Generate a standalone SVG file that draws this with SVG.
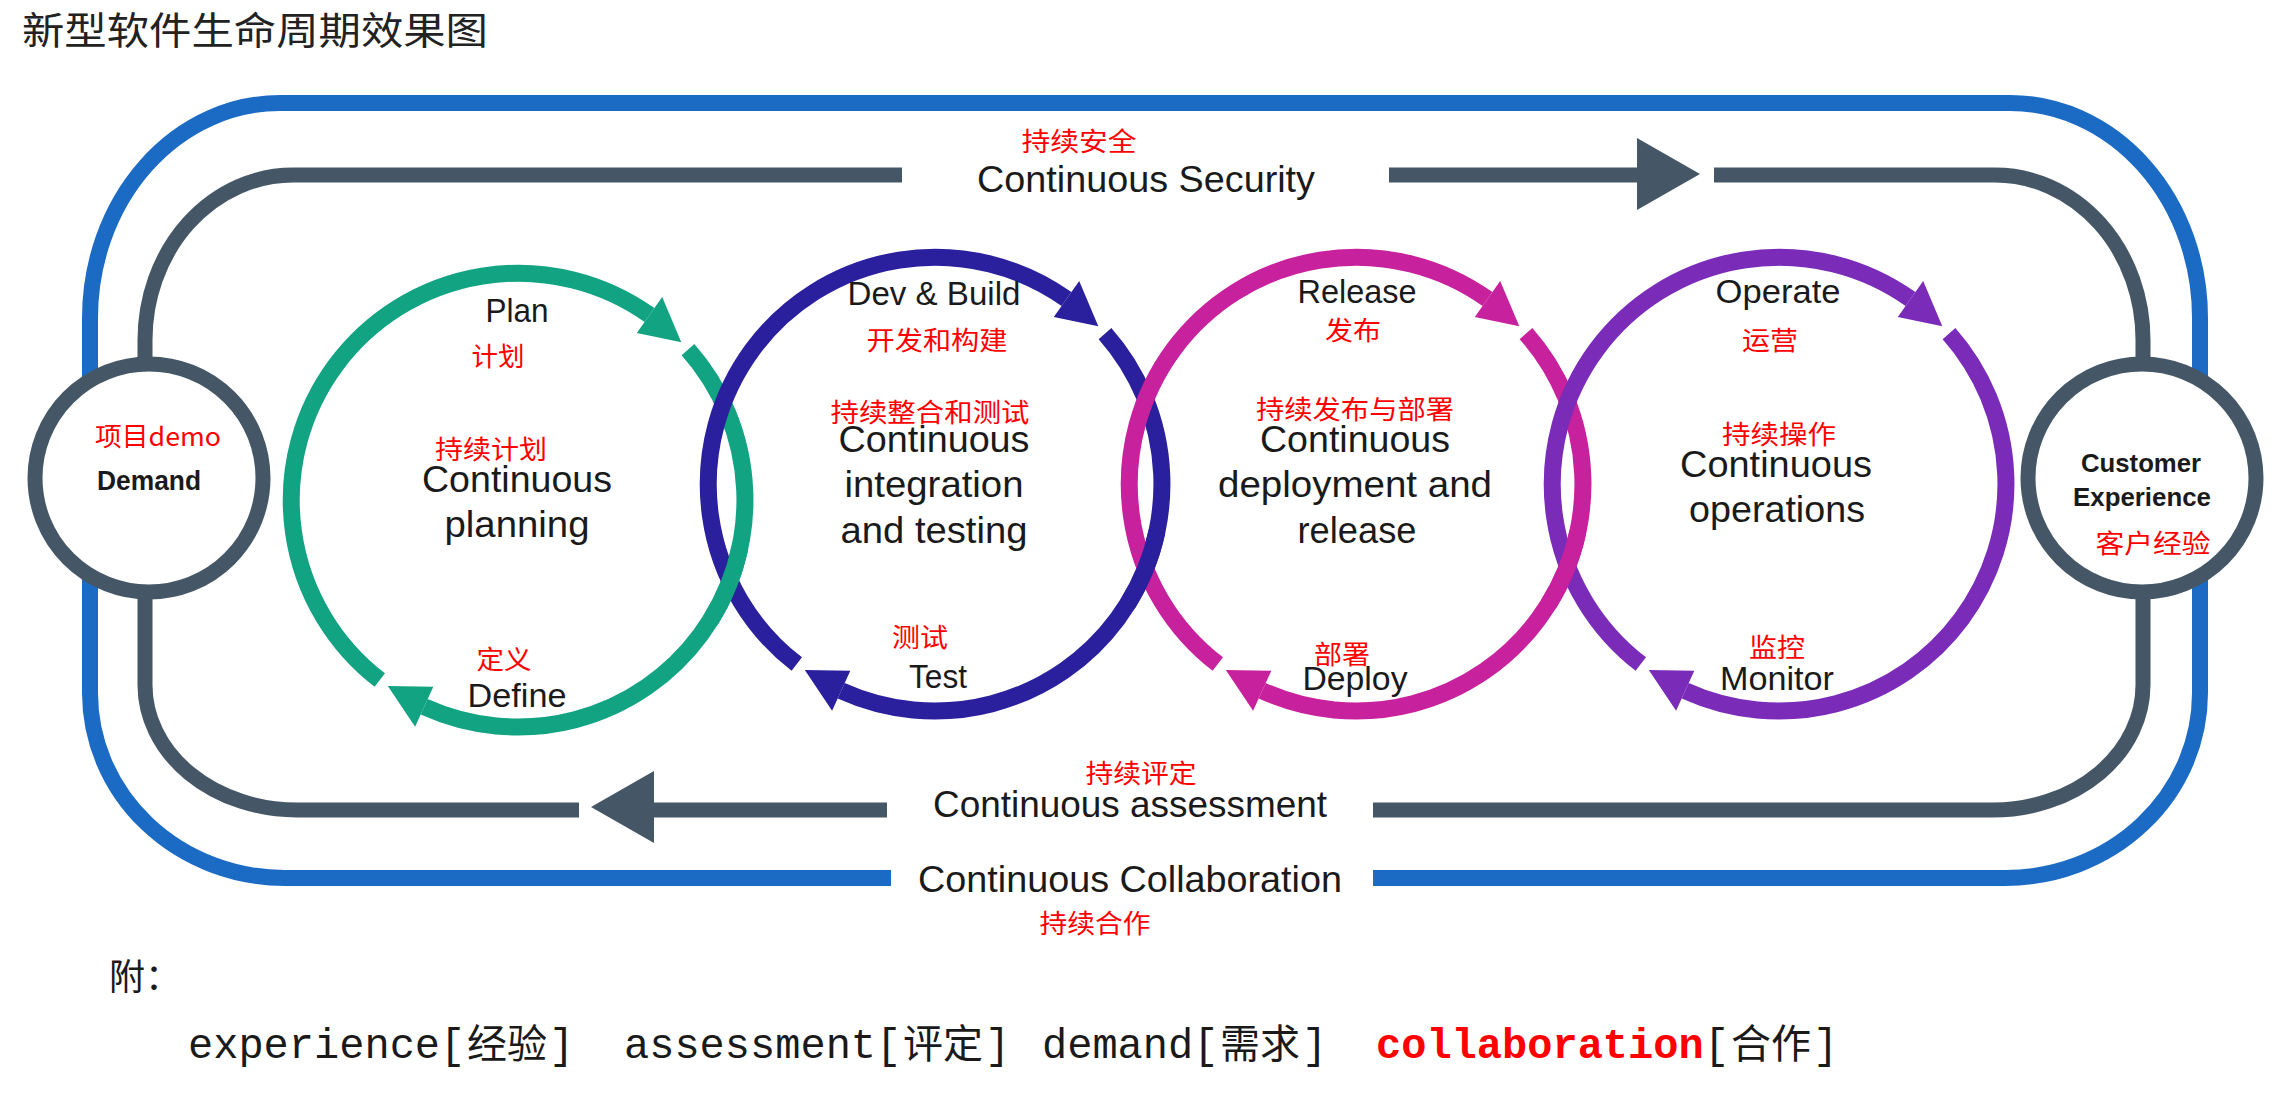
<svg xmlns="http://www.w3.org/2000/svg" xmlns:xlink="http://www.w3.org/1999/xlink" width="2282" height="1096" viewBox="0 0 2282 1096">
<style>
.en{font-family:"Liberation Sans",Arial,sans-serif;fill:#1a1a1a;text-anchor:middle}
.b{font-weight:bold}
.cn{font-family:"Noto Sans CJK SC","Noto Sans",sans-serif;fill:#ff0000;text-anchor:middle;font-size:26px}
.t37{font-size:37px}
.t34{font-size:34px}
.track{fill:none;stroke-linecap:butt}
.mono{font-family:"Liberation Mono","Courier New","Noto Sans CJK SC",monospace;font-size:42px;fill:#1a1a1a}
.monocn{font-family:"Noto Sans CJK SC",sans-serif;font-size:40px;fill:#1a1a1a}
</style>
<defs>
<g id="ring">
<path d="M -138.2 180.1 A 227 227 0 0 1 131.5 -185 M 170 -150.4 A 227 227 0 0 1 -93.8 206.7" fill="none" stroke="currentColor" stroke-width="17"/>
<path d="M 144.2 -202.9 L 163.3 -157.7 L 118.8 -167.1 Z M -102.9 226.7 L -130.2 186 L -84.7 186.7 Z" fill="currentColor"/>
</g>
<path id="lap" d="M 222 47.2 A 227 227 0 0 1 192.5 120.3" fill="none" stroke="currentColor" stroke-width="17"/>
</defs>
<rect x="0" y="0" width="2282" height="1096" fill="#ffffff"/>

<g id="title">
<text x="22" y="44" font-family="Noto Sans CJK SC, sans-serif" font-size="38" fill="#222" textLength="466" lengthAdjust="spacingAndGlyphs">新型软件生命周期效果图</text>
</g>

<g id="connectors">
<path class="track" stroke="#1b6bc5" stroke-width="16" d="M 891 878 H 285 A 195 185 0 0 1 90 693 V 318 A 190 215 0 0 1 280 103 H 2010 A 190 215 0 0 1 2200 318 V 693 A 195 185 0 0 1 2005 878 H 1373"/>
<path class="track" stroke="#455766" stroke-width="15" d="M 902 175 H 293 A 148 165 0 0 0 145 340 V 685 A 152 125 0 0 0 297 810 H 579"/>
<path class="track" stroke="#455766" stroke-width="15" d="M 654 810 H 887"/>
<path class="track" stroke="#455766" stroke-width="15" d="M 1373 810 H 1993 A 150 125 0 0 0 2143 685 V 340 A 148 165 0 0 0 1995 175 H 1714"/>
<path class="track" stroke="#455766" stroke-width="15" d="M 1389 175 H 1640"/>
<polygon points="1637,138 1700,174 1637,210" fill="#455766"/>
<polygon points="591,807 654,771 654,843" fill="#455766"/>
</g>

<g id="demand">
<circle cx="149" cy="478" r="114" fill="#ffffff" stroke="#455766" stroke-width="15"/>
<text class="cn" x="158" y="446" textLength="126" lengthAdjust="spacingAndGlyphs">项目demo</text>
<text class="en b" x="149" y="490" font-size="27" textLength="104" lengthAdjust="spacingAndGlyphs">Demand</text>
</g>

<g id="customer">
<circle cx="2142" cy="478" r="114" fill="#ffffff" stroke="#455766" stroke-width="15"/>
<text class="en b" x="2141" y="472" font-size="26" textLength="120" lengthAdjust="spacingAndGlyphs">Customer</text>
<text class="en b" x="2142" y="506" font-size="26" textLength="138" lengthAdjust="spacingAndGlyphs">Experience</text>
<text class="cn" x="2153" y="553" textLength="115" lengthAdjust="spacingAndGlyphs">客户经验</text>
</g>

<g id="rings">
<use xlink:href="#ring" x="518" y="500" style="color:#12a383"/>
<use xlink:href="#ring" x="935" y="484" style="color:#2a1f9d"/>
<use xlink:href="#ring" x="1356" y="484" style="color:#c8219e"/>
<use xlink:href="#ring" x="1779" y="484" style="color:#7a2bb8"/>
<use xlink:href="#lap" x="518" y="500" style="color:#12a383"/>
<use xlink:href="#lap" x="935" y="484" style="color:#2a1f9d"/>
<use xlink:href="#lap" x="1356" y="484" style="color:#c8219e"/>
</g>

<g id="plan">
<text class="en t34" x="517" y="322" textLength="63" lengthAdjust="spacingAndGlyphs">Plan</text>
<text class="cn" x="498" y="366" textLength="53" lengthAdjust="spacingAndGlyphs">计划</text>
<text class="cn" x="491" y="459" textLength="112" lengthAdjust="spacingAndGlyphs">持续计划</text>
<text class="en t37" x="517" y="492" textLength="190" lengthAdjust="spacingAndGlyphs">Continuous</text>
<text class="en t37" x="517" y="537" textLength="145" lengthAdjust="spacingAndGlyphs">planning</text>
<text class="cn" x="504" y="669" textLength="55" lengthAdjust="spacingAndGlyphs">定义</text>
<text class="en t34" x="517" y="707" textLength="99" lengthAdjust="spacingAndGlyphs">Define</text>
</g>

<g id="dev">
<text class="en t34" x="934" y="305" textLength="173" lengthAdjust="spacingAndGlyphs">Dev &amp; Build</text>
<text class="cn" x="937" y="350" textLength="141" lengthAdjust="spacingAndGlyphs">开发和构建</text>
<text class="cn" x="930" y="422" textLength="199" lengthAdjust="spacingAndGlyphs">持续整合和测试</text>
<text class="en t37" x="934" y="452" textLength="191" lengthAdjust="spacingAndGlyphs">Continuous</text>
<text class="en t37" x="934" y="497" textLength="179" lengthAdjust="spacingAndGlyphs">integration</text>
<text class="en t37" x="934" y="543" textLength="187" lengthAdjust="spacingAndGlyphs">and testing</text>
<text class="cn" x="920" y="647" textLength="56" lengthAdjust="spacingAndGlyphs">测试</text>
<text class="en t34" x="938" y="688" textLength="58" lengthAdjust="spacingAndGlyphs">Test</text>
</g>

<g id="release">
<text class="en t34" x="1357" y="303" textLength="119" lengthAdjust="spacingAndGlyphs">Release</text>
<text class="cn" x="1353" y="340" textLength="56" lengthAdjust="spacingAndGlyphs">发布</text>
<text class="cn" x="1355" y="419" textLength="198" lengthAdjust="spacingAndGlyphs">持续发布与部署</text>
<text class="en t37" x="1355" y="452" textLength="190" lengthAdjust="spacingAndGlyphs">Continuous</text>
<text class="en t37" x="1355" y="497" textLength="274" lengthAdjust="spacingAndGlyphs">deployment and</text>
<text class="en t37" x="1357" y="543" textLength="119" lengthAdjust="spacingAndGlyphs">release</text>
<text class="cn" x="1342" y="664" textLength="56" lengthAdjust="spacingAndGlyphs">部署</text>
<text class="en t34" x="1355" y="690" textLength="105" lengthAdjust="spacingAndGlyphs">Deploy</text>
</g>

<g id="operate">
<text class="en t34" x="1778" y="303" textLength="125" lengthAdjust="spacingAndGlyphs">Operate</text>
<text class="cn" x="1770" y="350" textLength="56" lengthAdjust="spacingAndGlyphs">运营</text>
<text class="cn" x="1779" y="444" textLength="114" lengthAdjust="spacingAndGlyphs">持续操作</text>
<text class="en t37" x="1776" y="477" textLength="192" lengthAdjust="spacingAndGlyphs">Continuous</text>
<text class="en t37" x="1777" y="522" textLength="176" lengthAdjust="spacingAndGlyphs">operations</text>
<text class="cn" x="1777" y="657" textLength="56" lengthAdjust="spacingAndGlyphs">监控</text>
<text class="en t34" x="1777" y="690" textLength="114" lengthAdjust="spacingAndGlyphs">Monitor</text>
</g>

<g id="security-label">
<text class="cn" x="1079" y="151" textLength="115" lengthAdjust="spacingAndGlyphs">持续安全</text>
<text class="en t37" x="1146" y="192" textLength="338" lengthAdjust="spacingAndGlyphs">Continuous Security</text>
</g>

<g id="assessment-label">
<text class="cn" x="1141" y="783" textLength="111" lengthAdjust="spacingAndGlyphs">持续评定</text>
<text class="en t37" x="1130" y="817" textLength="394" lengthAdjust="spacingAndGlyphs">Continuous assessment</text>
</g>

<g id="collaboration-label">
<text class="en t37" x="1130" y="892" textLength="424" lengthAdjust="spacingAndGlyphs">Continuous Collaboration</text>
<text class="cn" x="1095" y="933" textLength="111" lengthAdjust="spacingAndGlyphs">持续合作</text>
</g>

<g id="notes">
<text x="109" y="990" font-family="Noto Sans CJK SC, sans-serif" font-size="36" fill="#1a1a1a">附：</text>
<text class="mono" y="1058"><tspan x="188">experience[</tspan><tspan class="monocn" x="467">经验</tspan><tspan x="549">]</tspan><tspan x="624">assessment[</tspan><tspan class="monocn" x="903">评定</tspan><tspan x="985">]</tspan><tspan x="1042">demand[</tspan><tspan class="monocn" x="1220">需求</tspan><tspan x="1302">]</tspan><tspan x="1376" font-weight="bold" fill="#ff0000">collaboration</tspan><tspan x="1704">[</tspan><tspan class="monocn" x="1731">合作</tspan><tspan x="1813">]</tspan></text>
</g>
</svg>
